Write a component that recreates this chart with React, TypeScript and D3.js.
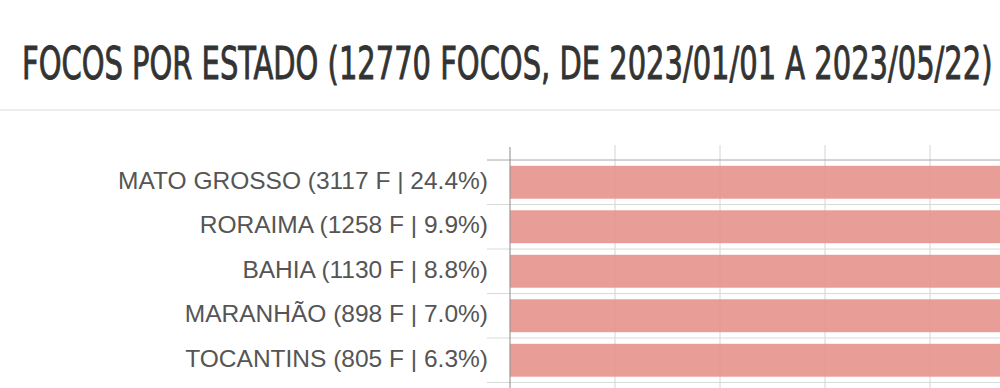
import { useEffect, useRef } from 'react';
import * as d3 from 'd3';

const states = ['MATO GROSSO', 'RORAIMA', 'BAHIA', 'MARANHÃO', 'TOCANTINS'];
const focos = [3117, 1258, 1130, 898, 805];
const shares = ['24.4%', '9.9%', '8.8%', '7.0%', '6.3%'];
const title = 'FOCOS POR ESTADO (12770 FOCOS, DE 2023/01/01 A 2023/05/22)';

export default function App() {
  const svgRef = useRef<SVGSVGElement | null>(null);

  useEffect(() => {
    if (!svgRef.current) return;
    const svg = d3.select(svgRef.current);
    svg.selectAll('*').remove();

    const width = 1000;
    const height = 388;
    const left = 510;
    const top = 160;

    const rows = states.map((s, i) => ({ state: s, value: focos[i], share: shares[i] }));

    const y = d3
      .scaleBand()
      .domain(states)
      .range([top, top + states.length * 44.5])
      .paddingInner(0.26)
      .paddingOuter(0.13);

    const x = d3.scaleLinear().domain([0, 3200]).range([left, left + 3200 * 1.05]);

    // title: condensed look, squeezed to the reference width
    const titleText = svg
      .append('text')
      .attr('x', 0)
      .attr('y', 0)
      .style('font-family', '"DejaVu Sans Condensed", "Liberation Sans Narrow", "Liberation Sans", sans-serif')
      .style('font-size', '45px')
      .style('fill', '#333')
      .style('stroke', '#333')
      .style('stroke-width', 0.9)
      .text(title);
    const natural = (titleText.node() as SVGTextElement).getComputedTextLength() || 1;
    const sx = 971 / natural;
    titleText.attr('transform', `translate(22,79) scale(${sx},1)`);

    svg
      .append('line')
      .attr('x1', 0)
      .attr('x2', width)
      .attr('y1', 110)
      .attr('y2', 110)
      .attr('stroke', '#ececec')
      .attr('stroke-width', 2);

    // vertical gridlines
    svg
      .append('g')
      .selectAll('line')
      .data(d3.range(100, 3201, 100))
      .join('line')
      .attr('x1', (d) => x(d))
      .attr('x2', (d) => x(d))
      .attr('y1', 145)
      .attr('y2', height)
      .attr('stroke', '#d4d4d4');

    // row boundary lines
    const step = y.step();
    const boundaries = d3.range(0, states.length + 1).map((i) => top + i * step);
    svg
      .append('g')
      .selectAll('line')
      .data(boundaries)
      .join('line')
      .attr('x1', 487)
      .attr('x2', width)
      .attr('y1', (d) => d)
      .attr('y2', (d) => d)
      .attr('stroke', (d, i) => (i === 0 ? '#a8a8a8' : '#d8dcd8'));

    // bars
    svg
      .append('g')
      .selectAll('rect')
      .data(rows)
      .join('rect')
      .attr('x', x(0))
      .attr('y', (d) => y(d.state)!)
      .attr('height', y.bandwidth())
      .attr('width', (d) => x(d.value) - x(0))
      .attr('fill', '#e6938b')
      .attr('fill-opacity', 0.9);

    // axis line
    svg
      .append('line')
      .attr('x1', left)
      .attr('x2', left)
      .attr('y1', 147)
      .attr('y2', height)
      .attr('stroke', '#8a8a8a');

    // labels
    svg
      .append('g')
      .selectAll('text')
      .data(rows)
      .join('text')
      .attr('x', 488)
      .attr('y', (d) => y(d.state)! + y.bandwidth() / 2 - 2)
      .attr('text-anchor', 'end')
      .attr('dominant-baseline', 'central')
      .style('font-family', '"Liberation Sans", Arial, sans-serif')
      .style('font-size', '24.5px')
      .style('fill', '#555')
      .text((d) => `${d.state} (${d.value} F | ${d.share})`);
  }, []);

  return (
    <svg
      ref={svgRef}
      width={1000}
      height={388}
      style={{ position: 'absolute', left: 0, top: 0, background: '#fff' }}
    />
  );
}
